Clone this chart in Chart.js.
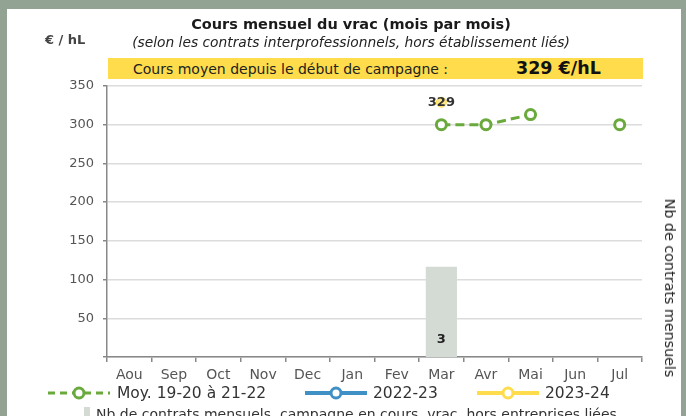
<!DOCTYPE html>
<html>
<head>
<meta charset="utf-8">
<script src="https://cdn.jsdelivr.net/npm/chart.js@4.4.0/dist/chart.umd.min.js"></script>
<style>
html,body{margin:0;padding:0;width:686px;height:416px;overflow:hidden;background:#92a393;font-family:"DejaVu Sans",sans-serif;}
#panel{position:absolute;left:7px;top:9px;width:674px;height:407px;background:#fff;overflow:hidden;}
#c{position:absolute;left:0;top:0;}
.abs{position:absolute;white-space:nowrap;}
#unit{left:38px;top:22px;font-weight:bold;font-size:13px;line-height:18px;color:#444;}
#band{left:101px;top:49px;width:535px;height:21px;background:#fedc4b;}
#bandTxt{left:126px;top:50.5px;font-size:14px;line-height:18px;color:#222;}
#bandVal{left:509px;top:49px;font-size:17.5px;line-height:21px;font-weight:bold;color:#111;}
#rtitle{left:662.5px;top:278.5px;font-size:14.3px;line-height:16px;color:#222;transform:translate(-50%,-50%) rotate(90deg);}
.lgt{font-size:15.5px;line-height:18px;color:#333;top:375px;}
.lgs{top:376px;}
#lg4{left:89px;top:395.5px;font-size:14px;line-height:18px;color:#333;}
#sq{left:77px;top:398px;width:6px;height:12px;background:#d4dbd4;}
</style>
</head>
<body>
<div id="panel">
  <canvas id="c" width="674" height="407"></canvas>
  <div id="band" class="abs"></div>
  <div id="bandTxt" class="abs">Cours moyen depuis le début de campagne :</div>
  <div id="bandVal" class="abs"></div>
  <div id="unit" class="abs">€ / hL</div>
  <div id="rtitle" class="abs">Nb de contrats mensuels</div>

  <svg class="abs lgs" style="left:41px" width="62" height="16"><line x1="0" y1="8" x2="62" y2="8" stroke="#6aaa3c" stroke-width="3" stroke-dasharray="7 5"/><circle cx="31" cy="8" r="5" fill="#fff" stroke="#6aaa3c" stroke-width="3"/></svg>
  <div class="abs lgt" style="left:110px">Moy. 19-20 à 21-22</div>
  <svg class="abs lgs" style="left:298px" width="62" height="16"><line x1="0" y1="8" x2="62" y2="8" stroke="#3f90c5" stroke-width="4"/><circle cx="31" cy="8" r="5" fill="#fff" stroke="#3f90c5" stroke-width="3"/></svg>
  <div class="abs lgt" style="left:366px">2022-23</div>
  <svg class="abs lgs" style="left:470px" width="62" height="16"><line x1="0" y1="8" x2="62" y2="8" stroke="#fedc4b" stroke-width="4"/><circle cx="31" cy="8" r="5" fill="#fff" stroke="#fedc4b" stroke-width="3"/></svg>
  <div class="abs lgt" style="left:538px">2023-24</div>
  <div id="sq" class="abs"></div>
  <div id="lg4" class="abs">Nb de contrats mensuels, campagne en cours, vrac, hors entreprises liées</div>
</div>
<script>
// ---- data ----
const months = ['Aou','Sep','Oct','Nov','Dec','Jan','Fev','Mar','Avr','Mai','Jun','Jul'];
const moyenne1922 = [null,null,null,null,null,null,null,300,300,313,null,300];
const cours2223   = [null,null,null,null,null,null,null,null,null,null,null,null];
const cours2324   = [null,null,null,null,null,null,null,329,null,null,null,null];
const nbContrats  = [null,null,null,null,null,null,null,3,null,null,null,null];
const yTickValues = [0,50,100,150,200,250,300,350];
const coursMoyen = 329;

document.getElementById('bandVal').textContent = coursMoyen + ' €/hL';

const FONT = 'DejaVu Sans';
const labelled = { 2: 'point', 3: 'bar' };

const valueLabels = {
  id: 'valueLabels',
  afterDatasetsDraw(chart) {
    const ctx = chart.ctx;
    chart.data.datasets.forEach((ds, i) => {
      const kind = labelled[i];
      if (!kind) return;
      const meta = chart.getDatasetMeta(i);
      meta.data.forEach((el, j) => {
        const v = ds.data[j];
        if (v == null) return;
        ctx.save();
        ctx.textAlign = 'center';
        ctx.textBaseline = 'middle';
        ctx.font = 'bold 13px "' + FONT + '"';
        if (kind === 'bar') {
          ctx.fillStyle = '#222';
          ctx.fillText(String(v), el.x, el.base - 17);
        } else {
          ctx.fillStyle = '#333';
          ctx.fillText(String(v), el.x, el.y);
        }
        ctx.restore();
      });
    });
  }
};

new Chart(document.getElementById('c'), {
  type: 'bar',
  data: {
    labels: months,
    datasets: [
      { type: 'line', label: 'Moy. 19-20 à 21-22', data: moyenne1922, yAxisID: 'y', order: 1,
        borderColor: '#6aaa3c', borderWidth: 3, borderDash: [9, 5], spanGaps: false,
        pointRadius: 5, pointBorderWidth: 3, pointBackgroundColor: '#fff', pointBorderColor: '#6aaa3c' },
      { type: 'line', label: '2022-23', data: cours2223, yAxisID: 'y', order: 2,
        borderColor: '#3f90c5', borderWidth: 4,
        pointRadius: 5, pointBorderWidth: 3, pointBackgroundColor: '#fff', pointBorderColor: '#3f90c5' },
      { type: 'line', label: '2023-24', data: cours2324, yAxisID: 'y', order: 3,
        borderColor: '#fedc4b', borderWidth: 4,
        pointRadius: 5, pointBorderWidth: 1, pointBackgroundColor: '#fee98a', pointBorderColor: '#fedc4b' },
      { type: 'bar', label: 'Nb de contrats mensuels, campagne en cours, vrac, hors entreprises liées',
        data: nbContrats, yAxisID: 'y1', order: 10, backgroundColor: '#d4dbd4',
        categoryPercentage: 0.7, barPercentage: 1.0 }
    ]
  },
  options: {
    responsive: false,
    animation: false,
    events: [],
    layout: { padding: { left: 14, right: 0, top: 0, bottom: 29 } },
    plugins: {
      legend: { display: false },
      tooltip: { enabled: false },
      title: { display: true, text: 'Cours mensuel du vrac (mois par mois)', color: '#1a1a1a',
        font: { family: FONT, size: 14.5, weight: 'bold' }, padding: { top: 8, bottom: 0 } },
      subtitle: { display: true, text: '(selon les contrats interprofessionnels, hors établissement liés)', color: '#222',
        font: { family: FONT, size: 13.8, style: 'italic' }, padding: { top: 1, bottom: 34 } }
    },
    scales: {
      x: {
        offset: true,
        grid: { display: true, drawOnChartArea: false, offset: true, tickLength: 5, tickColor: '#888', lineWidth: 1.5 },
        border: { color: '#888', width: 1.5 },
        ticks: { font: { family: FONT, size: 14 }, color: '#555', padding: 5, maxRotation: 0, autoSkip: false },
        afterFit(s) { s.height = 30; }
      },
      y: {
        position: 'left', min: 0, max: 350,
        afterBuildTicks(s) { s.ticks = yTickValues.map(v => ({ value: v })); },
        ticks: { font: { family: FONT, size: 13 }, color: '#555', padding: 9,
          callback: (v) => v === 0 ? '' : String(v) },
        grid: { color: '#dcdcdc', lineWidth: 1.5, tickLength: 4, tickColor: '#888' },
        border: { color: '#888', width: 1.5 },
        afterFit(s) { s.width = 86; }
      },
      y1: {
        position: 'right', min: 0, max: 9,
        ticks: { display: false },
        grid: { display: false, drawTicks: false },
        border: { display: false },
        afterFit(s) { s.width = 39; }
      }
    }
  },
  plugins: [valueLabels]
});
</script>
</body>
</html>
